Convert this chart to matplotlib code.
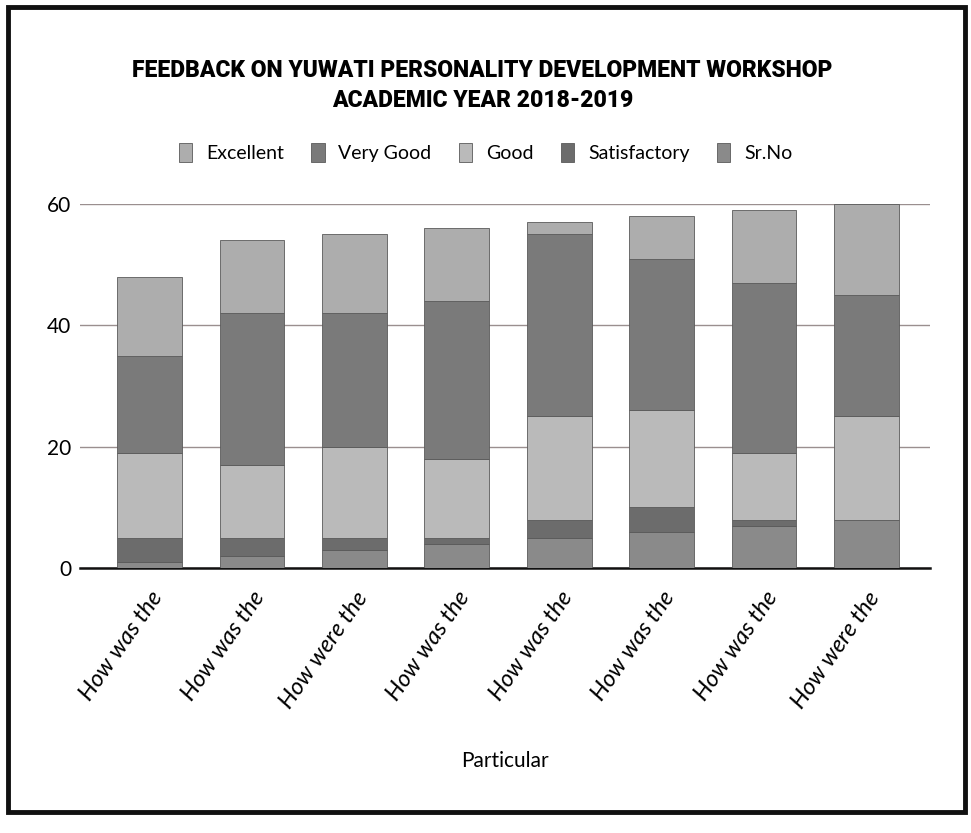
import matplotlib.pyplot as plt
import numpy as np
from matplotlib.patches import Rectangle

questions = ["How was the", "How was the", "How were the", "How was the",
             "How was the", "How was the", "How was the", "How were the"]
sr_no = [1, 2, 3, 4, 5, 6, 7, 8]
satisfactory = [4, 3, 2, 1, 3, 4, 1, 0]
good = [14, 12, 15, 13, 17, 16, 11, 17]
very_good = [16, 25, 22, 26, 30, 25, 28, 20]
excellent = [13, 12, 13, 12, 2, 7, 12, 15]

# stacked bottom -> top, legend lists them top -> bottom
series = [
    ("Sr.No", sr_no, "#8a8a8a"),
    ("Satisfactory", satisfactory, "#6c6c6c"),
    ("Good", good, "#bababa"),
    ("Very Good", very_good, "#7a7a7a"),
    ("Excellent", excellent, "#adadad"),
]

label_font = ["Lato", "DejaVu Sans"]
title_font = ["Roboto", "DejaVu Sans"]

fig = plt.figure(figsize=(9.71, 8.33), dpi=100)
ax = fig.add_axes([0.082, 0.318, 0.876, 0.437])

x = np.arange(len(questions))
bottom = np.zeros(len(questions))
handles = {}
for name, vals, color in series:
    bars = ax.bar(x, vals, width=0.63, bottom=bottom, color=color,
                  edgecolor="#5a5a5a", linewidth=0.6, zorder=3, label=name)
    handles[name] = bars
    bottom += np.array(vals)

ax.set_ylim(0, 60)
ax.set_xlim(-0.68, 7.62)
ax.set_yticks([0, 20, 40, 60])
ax.yaxis.grid(True, color="#9a8f8f", linewidth=1.0, zorder=0)
ax.set_axisbelow(True)
for s in ["top", "right", "left"]:
    ax.spines[s].set_visible(False)
ax.spines["bottom"].set_linewidth(1.8)
ax.spines["bottom"].set_color("#111111")
ax.tick_params(axis="y", length=0, labelsize=15, pad=6)
for lbl in ax.get_yticklabels():
    lbl.set_family(label_font)

ax.set_xticks(x)
ax.set_xticklabels(questions, rotation=55, ha="right", rotation_mode="anchor",
                   fontsize=17, style="italic", family=label_font)
ax.tick_params(axis="x", length=0, pad=14)

ax.set_xlabel("Particular", fontsize=15, family=label_font, labelpad=28)

order = ["Excellent", "Very Good", "Good", "Satisfactory", "Sr.No"]
leg = fig.legend([handles[n] for n in order], order, loc="center",
                 bbox_to_anchor=(0.50, 0.817), ncol=5, frameon=False,
                 prop={"family": label_font, "size": 14}, handlelength=0.7,
                 handleheight=1.1, columnspacing=1.4, handletextpad=0.7)

fig.text(0.497, 0.915, "FEEDBACK ON YUWATI PERSONALITY DEVELOPMENT WORKSHOP",
         ha="center", va="center", fontsize=16.5, fontweight="black", family=title_font)
fig.text(0.497, 0.879, "ACADEMIC YEAR 2018-2019",
         ha="center", va="center", fontsize=16.5, fontweight="black", family=title_font)

fig.patches.append(Rectangle((0.008, 0.025), 0.986, 0.966, transform=fig.transFigure,
                             fill=False, edgecolor="#111111", linewidth=3.5))

fig.savefig("out.png", dpi=100)
